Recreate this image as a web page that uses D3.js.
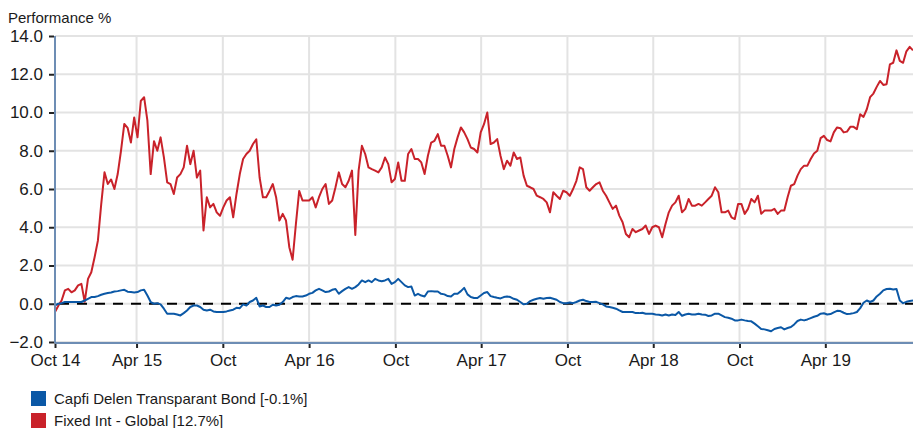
<!DOCTYPE html>
<html>
<head>
<meta charset="utf-8">
<style>
  body {
    margin: 0;
    background: #fff;
    font-family: "Liberation Sans", Arial, sans-serif;
  }
  .tick text {
    fill: #1a1a1a;
  }
</style>
</head>
<body>
<div id="chart"></div>
<script src="https://d3js.org/d3.v7.min.js"></script>
<script>
  // weekly closes, first one on startDate
  const startDate = "2014-10-10";

  const tickDates = ["2014-10-10", "2015-04-01", "2015-10-01", "2016-04-01", "2016-10-01",
    "2017-04-01", "2017-10-01", "2018-04-01", "2018-10-01", "2019-04-01"];
  const tickLabels = ["Oct 14", "Apr 15", "Oct", "Apr 16", "Oct", "Apr 17", "Oct", "Apr 18", "Oct", "Apr 19"];
  const yTicks = [-2, 0, 2, 4, 6, 8, 10, 12, 14];

  const seriesNames = ["Capfi Delen Transparant Bond [-0.1%]", "Fixed Int - Global [12.7%]"];
  const seriesColors = ["#0b58a6", "#c9222a"];

  const blueValues = [
    -0.09, 0, 0.03, 0.09, 0.09, 0.09, 0.09, 0.09, 0.09, 0.17,
    0.26, 0.35, 0.35, 0.4, 0.47, 0.52, 0.56, 0.59, 0.64, 0.66,
    0.7, 0.73, 0.63, 0.61, 0.59, 0.61, 0.7, 0.73, 0.43, 0.09,
    0, 0.03, -0.03, -0.26, -0.52, -0.52, -0.52, -0.56, -0.61, -0.49,
    -0.35, -0.17, -0.09, -0.09, -0.17, -0.31, -0.35, -0.31, -0.4, -0.43,
    -0.43, -0.43, -0.4, -0.35, -0.31, -0.21, -0.23, -0.03, -0.09, 0.09,
    0.17, 0.31, -0.14, -0.09, -0.17, -0.17, -0.05, -0.09, -0.05, 0.09,
    0.31, 0.26, 0.35, 0.4, 0.38, 0.38, 0.43, 0.52, 0.57, 0.7,
    0.78, 0.7, 0.61, 0.64, 0.73, 0.77, 0.52, 0.66, 0.78, 0.87,
    0.78, 0.87, 1.01, 1.22, 1.13, 1.22, 1.13, 1.3, 1.22, 1.18,
    1.22, 1.3, 1.04, 1.13, 1.3, 1.13, 0.96, 0.87, 0.9, 0.43,
    0.52, 0.43, 0.38, 0.64, 0.66, 0.64, 0.64, 0.52, 0.49, 0.4,
    0.38, 0.52, 0.52, 0.66, 0.83, 0.49, 0.35, 0.3, 0.3, 0.43,
    0.56, 0.61, 0.4, 0.35, 0.31, 0.28, 0.35, 0.38, 0.35, 0.26,
    0.21, 0.09, -0.03, 0, 0.14, 0.21, 0.26, 0.3, 0.26, 0.3,
    0.31, 0.26, 0.21, 0.09, 0.03, 0.03, 0.07, 0.03, 0.09, 0.17,
    0.21, 0.14, 0.09, 0.09, 0.1, 0.03, -0.03, -0.14, -0.17, -0.21,
    -0.26, -0.35, -0.43, -0.43, -0.43, -0.43, -0.49, -0.49, -0.47, -0.52,
    -0.52, -0.52, -0.56, -0.57, -0.61, -0.56, -0.61, -0.56, -0.59, -0.43,
    -0.63, -0.56, -0.52, -0.56, -0.56, -0.52, -0.56, -0.57, -0.64, -0.61,
    -0.52, -0.52, -0.61, -0.7, -0.73, -0.78, -0.87, -0.87, -0.83, -0.87,
    -0.9, -0.92, -1.04, -1.18, -1.32, -1.34, -1.39, -1.44, -1.32, -1.27,
    -1.23, -1.34, -1.27, -1.22, -1.08, -0.9, -0.83, -0.87, -0.82, -0.75,
    -0.68, -0.63, -0.52, -0.5, -0.56, -0.54, -0.45, -0.37, -0.38, -0.47,
    -0.54, -0.52, -0.49, -0.43, -0.23, 0.05, 0.17, 0.09, 0.17, 0.38,
    0.52, 0.7, 0.77, 0.78, 0.75, 0.77, 0.17, 0.03, 0.1, 0.14,
    0.17
  ];

  const redValues = [
    -0.43, -0.1, 0.17, 0.7, 0.78, 0.6, 0.7, 0.96, 1.04, 0.1,
    1.3, 1.65, 2.43, 3.3, 5.2, 6.87, 6.26, 6.5, 6.0, 6.78,
    8.0, 9.4, 9.2, 8.43, 9.74, 8.7, 10.6, 10.8, 9.57, 6.78,
    8.5, 8.0, 8.7, 7.65, 6.35, 6.26, 5.74, 6.6, 6.78, 7.13,
    8.26, 7.3, 8.0, 6.6, 6.96, 3.83, 5.57, 5.04, 5.22, 4.78,
    4.6, 5.04, 5.4, 5.57, 4.52, 5.74, 6.78, 7.57, 7.83, 8.0,
    8.35, 8.6, 6.6, 5.57, 5.57, 5.9, 6.26, 5.57, 4.35, 4.7,
    4.35, 2.96, 2.3, 4.17, 5.9, 5.4, 5.4, 5.4, 5.57, 5.04,
    5.57, 6.0, 6.26, 5.22, 5.4, 6.09, 6.87, 6.26, 6.09, 6.43,
    6.96, 3.6, 6.96, 8.26, 7.83, 7.13, 7.04, 6.96, 6.87, 7.13,
    7.65, 7.3, 6.35, 6.52, 7.39, 6.43, 6.43, 7.83, 8.09, 7.57,
    7.57, 7.39, 6.78, 7.74, 8.43, 8.52, 8.87, 8.26, 8.26, 7.74,
    7.13, 8.09, 8.7, 9.22, 8.96, 8.61, 8.17, 8.09, 7.91, 8.96,
    9.39, 10.0, 8.35, 8.43, 8.61, 7.74, 7.04, 7.48, 7.22, 7.91,
    7.57, 7.65, 6.7, 6.17, 6.09, 6.0, 5.65, 5.57, 5.48, 5.3,
    4.78, 5.83, 5.65, 5.48, 5.91, 5.83, 5.65, 6.0, 6.43, 7.13,
    7.04, 6.09, 5.91, 6.09, 6.26, 6.35, 5.91, 5.65, 5.3, 4.96,
    5.13, 4.61, 4.26, 3.65, 3.48, 3.91, 3.74, 3.83, 3.91, 4.09,
    3.65, 4.0, 4.09, 4.0, 3.48, 4.17, 4.78, 5.13, 5.3, 5.65,
    4.78, 4.96, 5.48, 5.13, 5.13, 5.22, 5.13, 5.3, 5.48, 5.65,
    6.09, 5.83, 4.78, 4.78, 4.87, 4.52, 4.43, 5.22, 5.22, 4.7,
    4.96, 5.48, 5.3, 5.65, 4.7, 4.87, 4.87, 4.87, 4.96, 4.7,
    4.87, 4.87, 5.57, 6.17, 6.26, 6.7, 7.04, 7.22, 7.22, 7.57,
    7.86, 8.0, 8.66, 8.78, 8.56, 8.49, 8.96, 9.22, 9.18, 8.96,
    9.0, 9.25, 9.25, 9.13, 9.91, 9.77, 10.17, 10.8, 10.99, 11.34,
    11.65, 11.44, 11.48, 12.52, 12.6, 13.25, 12.7, 12.6, 13.2, 13.43,
    13.25
  ];

  const width = 913, height = 428;
  const plot = { left: 55, right: 913, top: 36, bottom: 342 };

  const parseDate = d3.timeParse("%Y-%m-%d");
  const start = parseDate(startDate);
  const dates = redValues.map((v, i) => d3.timeDay.offset(start, 7 * i));

  const svg = d3.select("#chart").append("svg")
    .attr("width", width)
    .attr("height", height);

  const x = d3.scaleTime()
    .domain([dates[0], dates[dates.length - 1]])
    .range([plot.left, plot.right]);

  const y = d3.scaleLinear()
    .domain([-2, 14])
    .range([plot.bottom, plot.top]);

  const ticks = tickDates.map(parseDate);

  // grid
  svg.append("g").selectAll("line")
    .data(yTicks)
    .enter().append("line")
    .attr("x1", plot.left).attr("x2", plot.right)
    .attr("y1", d => y(d)).attr("y2", d => y(d))
    .attr("stroke", "#e3e3e3").attr("stroke-width", 2);

  svg.append("g").selectAll("line")
    .data(ticks.slice(1))
    .enter().append("line")
    .attr("x1", d => x(d)).attr("x2", d => x(d))
    .attr("y1", plot.top).attr("y2", plot.bottom)
    .attr("stroke", "#e3e3e3").attr("stroke-width", 2);

  // axes
  const yAxis = svg.append("g")
    .attr("transform", "translate(" + (plot.left - 1) + ",0)")
    .style("font-size", "17px")
    .style("font-family", "'Liberation Sans', Arial, sans-serif")
    .call(d3.axisLeft(y).tickValues(yTicks).tickFormat(d3.format(".1f")).tickSize(5).tickPadding(6));
  yAxis.select(".domain").remove();
  yAxis.selectAll(".tick line").attr("stroke", "#222").attr("stroke-width", 2);

  const xAxis = svg.append("g")
    .attr("transform", "translate(0," + (plot.bottom + 1) + ")")
    .style("font-size", "17px")
    .style("font-family", "'Liberation Sans', Arial, sans-serif")
    .call(d3.axisBottom(x).tickValues(ticks).tickFormat((d, i) => tickLabels[i]).tickSize(5).tickPadding(6));
  xAxis.select(".domain").remove();
  xAxis.selectAll(".tick line").attr("stroke", "#222").attr("stroke-width", 2);

  // zero line
  svg.append("line")
    .attr("x1", plot.left + 4).attr("x2", plot.right)
    .attr("y1", y(0)).attr("y2", y(0))
    .attr("stroke", "#000").attr("stroke-width", 2)
    .attr("stroke-dasharray", "10,8");

  // series
  const line = d3.line()
    .x((d, i) => x(dates[i]))
    .y(d => y(d));

  svg.append("path")
    .datum(redValues)
    .attr("fill", "none")
    .attr("stroke", seriesColors[1])
    .attr("stroke-width", 2)
    .attr("stroke-linejoin", "round")
    .attr("d", line);

  svg.append("path")
    .datum(blueValues)
    .attr("fill", "none")
    .attr("stroke", seriesColors[0])
    .attr("stroke-width", 2)
    .attr("stroke-linejoin", "round")
    .attr("d", line);

  // axis lines
  svg.append("line")
    .attr("x1", plot.left).attr("x2", plot.left)
    .attr("y1", plot.top).attr("y2", plot.bottom + 1)
    .attr("stroke", "#6d8db4").attr("stroke-width", 2);
  svg.append("line")
    .attr("x1", plot.left).attr("x2", plot.right)
    .attr("y1", plot.bottom + 1).attr("y2", plot.bottom + 1)
    .attr("stroke", "#6d8db4").attr("stroke-width", 2);

  svg.append("text")
    .attr("x", 8).attr("y", 23)
    .style("font-size", "15px")
    .attr("fill", "#1a1a1a")
    .text("Performance %");

  // legend
  const legend = svg.append("g").selectAll("g")
    .data(seriesNames)
    .enter().append("g")
    .attr("transform", (d, i) => "translate(31," + (391 + i * 22) + ")");
  legend.append("rect")
    .attr("width", 15).attr("height", 15)
    .attr("fill", (d, i) => seriesColors[i]);
  legend.append("text")
    .attr("x", 23).attr("y", 13)
    .style("font-size", "15px")
    .attr("fill", "#1a1a1a")
    .text(d => d);
</script>
</body>
</html>
